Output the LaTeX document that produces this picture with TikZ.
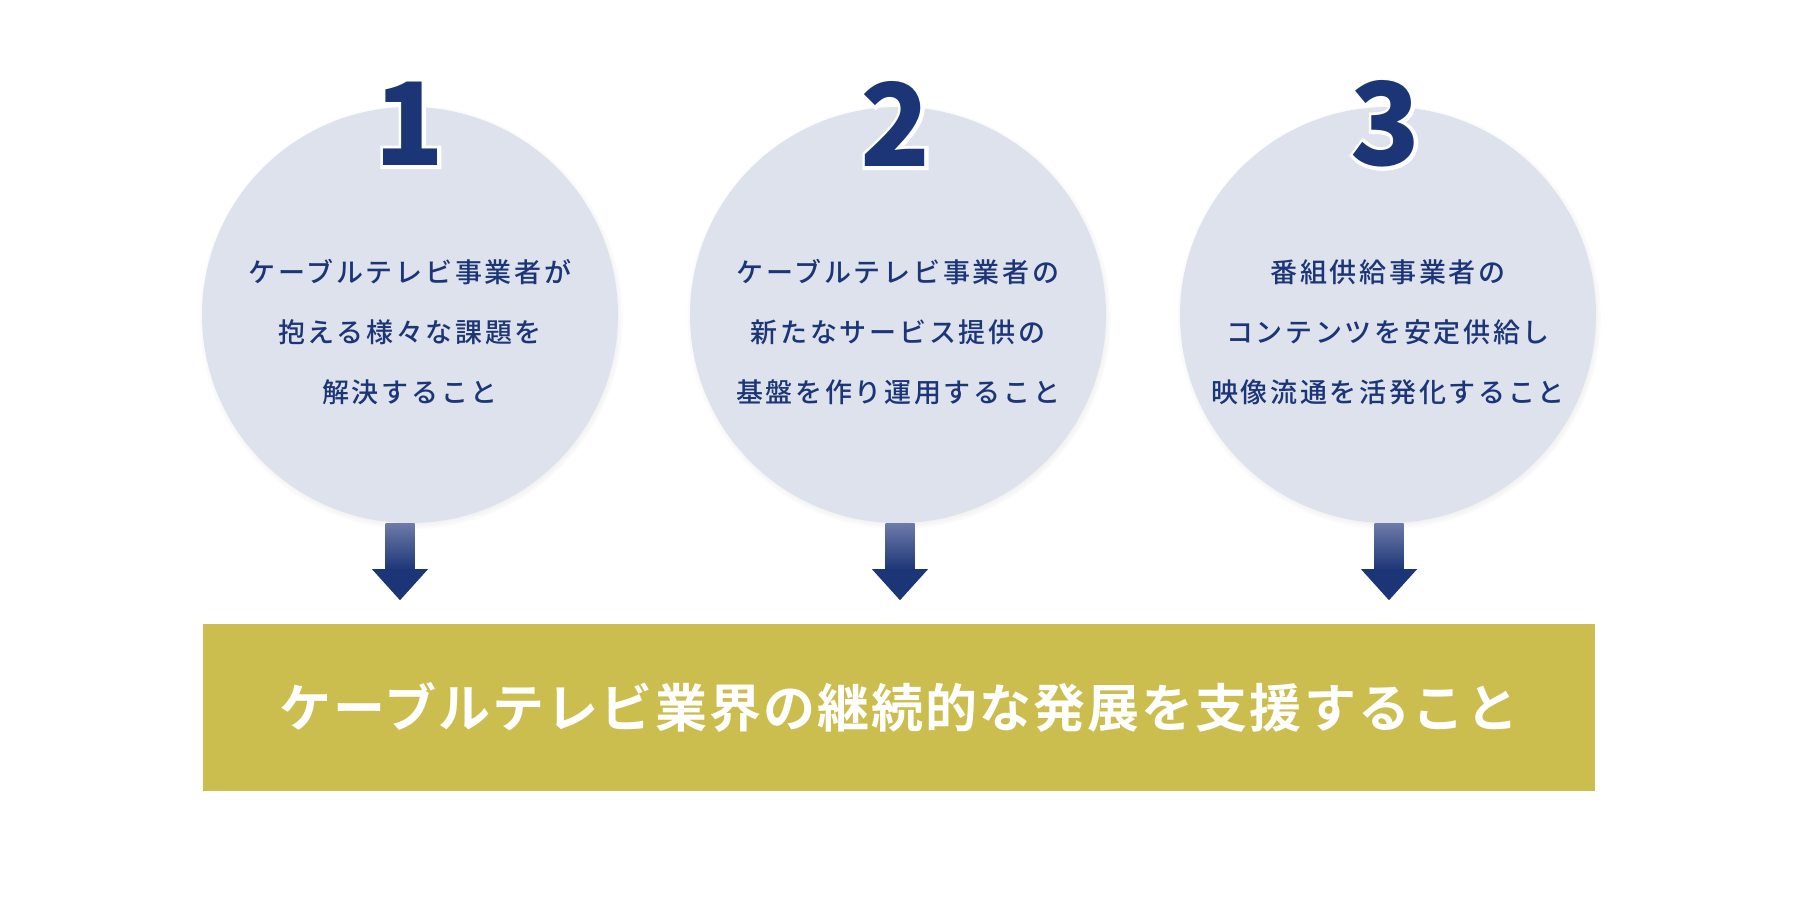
\documentclass[tikz,border=0pt]{standalone}
\usepackage{fontspec}
\setmainfont{Noto Sans CJK JP}[BoldFont={Noto Sans CJK JP Bold}]
\newfontfamily\numfont{Noto Sans CJK JP Black}
\newfontfamily\rimfont{Noto Sans CJK JP Black}[FakeBold=6]
\newfontfamily\bodyfont{Noto Sans CJK JP Medium}[LetterSpace=10]
\newfontfamily\goalfont{Noto Sans CJK JP Bold}[LetterSpace=4]
\usetikzlibrary{calc,shadows}
\definecolor{navy}{HTML}{1C3577}
\definecolor{discfill}{HTML}{DEE2EC}
\definecolor{olive}{HTML}{CBBE4E}
\definecolor{shafttop}{HTML}{6E7BA8}
\tikzset{
  disc/.style={circle, fill=discfill, minimum size=416pt, inner sep=0pt,
    circular drop shadow={shadow scale=1.02, shadow xshift=1pt, shadow yshift=-2pt, opacity=0.45, fill=gray}},
  body/.style={text=navy, align=center, font=\bodyfont\fontsize{27}{60}\selectfont, inner sep=0pt},
  num/.style={text=navy, font=\numfont\fontsize{115}{115}\selectfont, inner sep=0pt},
  numrim/.style={inner sep=0pt, text=white, font=\rimfont\fontsize{115}{115}\selectfont},
  goalbox/.style={fill=olive, minimum width=1392pt, minimum height=167pt, inner sep=0pt,
    text=white, font=\goalfont\fontsize{52}{52}\selectfont},
}
\begin{document}
\begin{tikzpicture}[x=1pt,y=-1pt]
    \useasboundingbox[fill=white] (0,0) rectangle (1800,900);
    % circles
    \node[disc] (circ1) at (410,315) {};
    \node[disc] (circ2) at (898,315) {};
    \node[disc] (circ3) at (1388,315) {};
    \node[body] (txt1) at (410,332) {ケーブルテレビ事業者が\\抱える様々な課題を\\解決すること};
    \node[body] (txt2) at (898,332) {ケーブルテレビ事業者の\\新たなサービス提供の\\基盤を作り運用すること};
    \node[body] (txt3) at (1388,332) {番組供給事業者の\\コンテンツを安定供給し\\映像流通を活発化すること};
    % numbers with a white rim
    \foreach \n/\x in {1/410,2/896,3/1386}{
        \node[numrim] at (\x,124) {\n};
        \node[num] (num\n) at (\x,124) {\n};
    }
    % goal
    \node[goalbox] (goal) at (899,707.5) {ケーブルテレビ業界の継続的な発展を支援すること};
    % arrows
    \foreach \c/\dx in {circ1/-10,circ2/2,circ3/1}{
        \shade[top color=shafttop, bottom color=navy] ($(\c.south)+(\dx-14.5,0)$) rectangle ($(\c.south)+(\dx+14.5,47)$);
        \fill[navy] ($(\c.south)+(\dx-28,46)$) -- ($(\c.south)+(\dx+28,46)$) -- ($(\c.south)+(\dx,77)$) -- cycle;
    }
\end{tikzpicture}
\end{document}
